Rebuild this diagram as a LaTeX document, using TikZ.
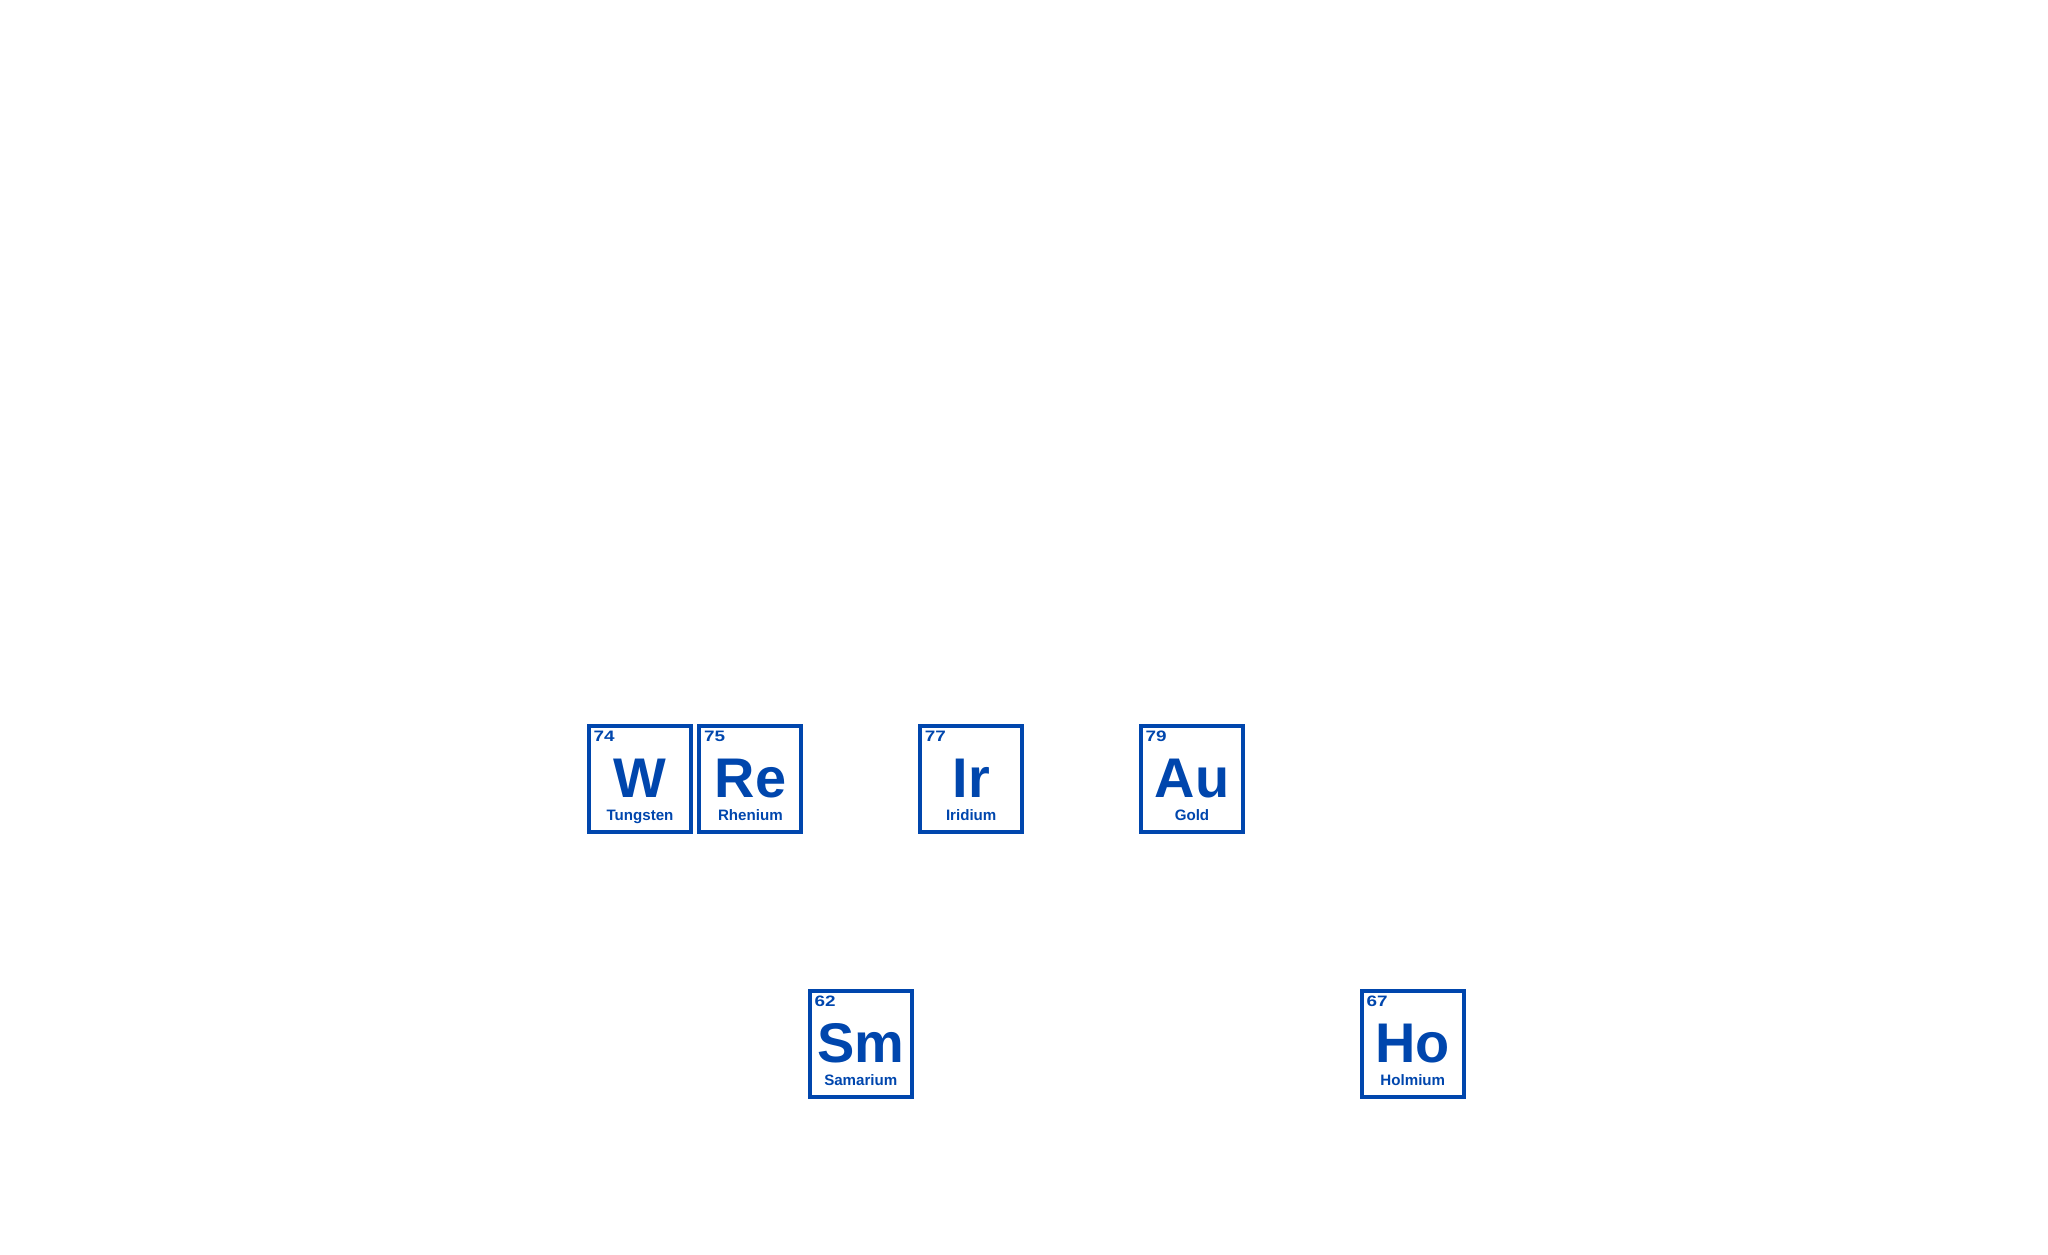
\documentclass[tikz,border=0pt]{standalone}
\usepackage{fontspec}
\setmainfont{Liberation Sans}
\newfontfamily\numfont[FakeStretch=1.25]{Liberation Sans}
\usepackage{tikz}
\definecolor{elemblue}{RGB}{0,70,173}

\begin{document}
\begin{tikzpicture}[
  tile/.style={rectangle,draw=elemblue,line width=0.04cm,inner sep=0pt,
    minimum width=1.02cm,minimum height=1.06cm},
  atomno/.style={anchor=base west,inner sep=0pt,text=elemblue,
    font=\numfont\bfseries\fontsize{4.3pt}{5pt}\selectfont},
  symb/.style={anchor=base,inner sep=0pt,text=elemblue,
    font=\bfseries\fontsize{15.9pt}{17pt}\selectfont},
  elname/.style={anchor=base,inner sep=0pt,text=elemblue,
    font=\bfseries\fontsize{4.3pt}{5pt}\selectfont}]

  % page size
  \useasboundingbox (0,0) rectangle (20.48,12.55);

  % Element tiles
  \foreach \c/\r/\z/\s/\e in {0/0/74/W/Tungsten, 1/0/75/Re/Rhenium,
      3/0/77/Ir/Iridium, 5/0/79/Au/Gold,
      2/1/62/Sm/Samarium, 7/1/67/Ho/Holmium} {
    \node[tile] (\s) at ({6.40+1.104*\c},{4.76-2.65*\r}) {};
    \node[atomno] (\s-no) at ([shift={(0.06,-0.18)}]\s.north west) {\z};
    \node[symb] (\s-sym) at ([yshift=-0.74cm]\s.north) {\s};
    \node[elname] (\s-name) at ([yshift=-0.97cm]\s.north) {\e};
  }
\end{tikzpicture}
\end{document}
